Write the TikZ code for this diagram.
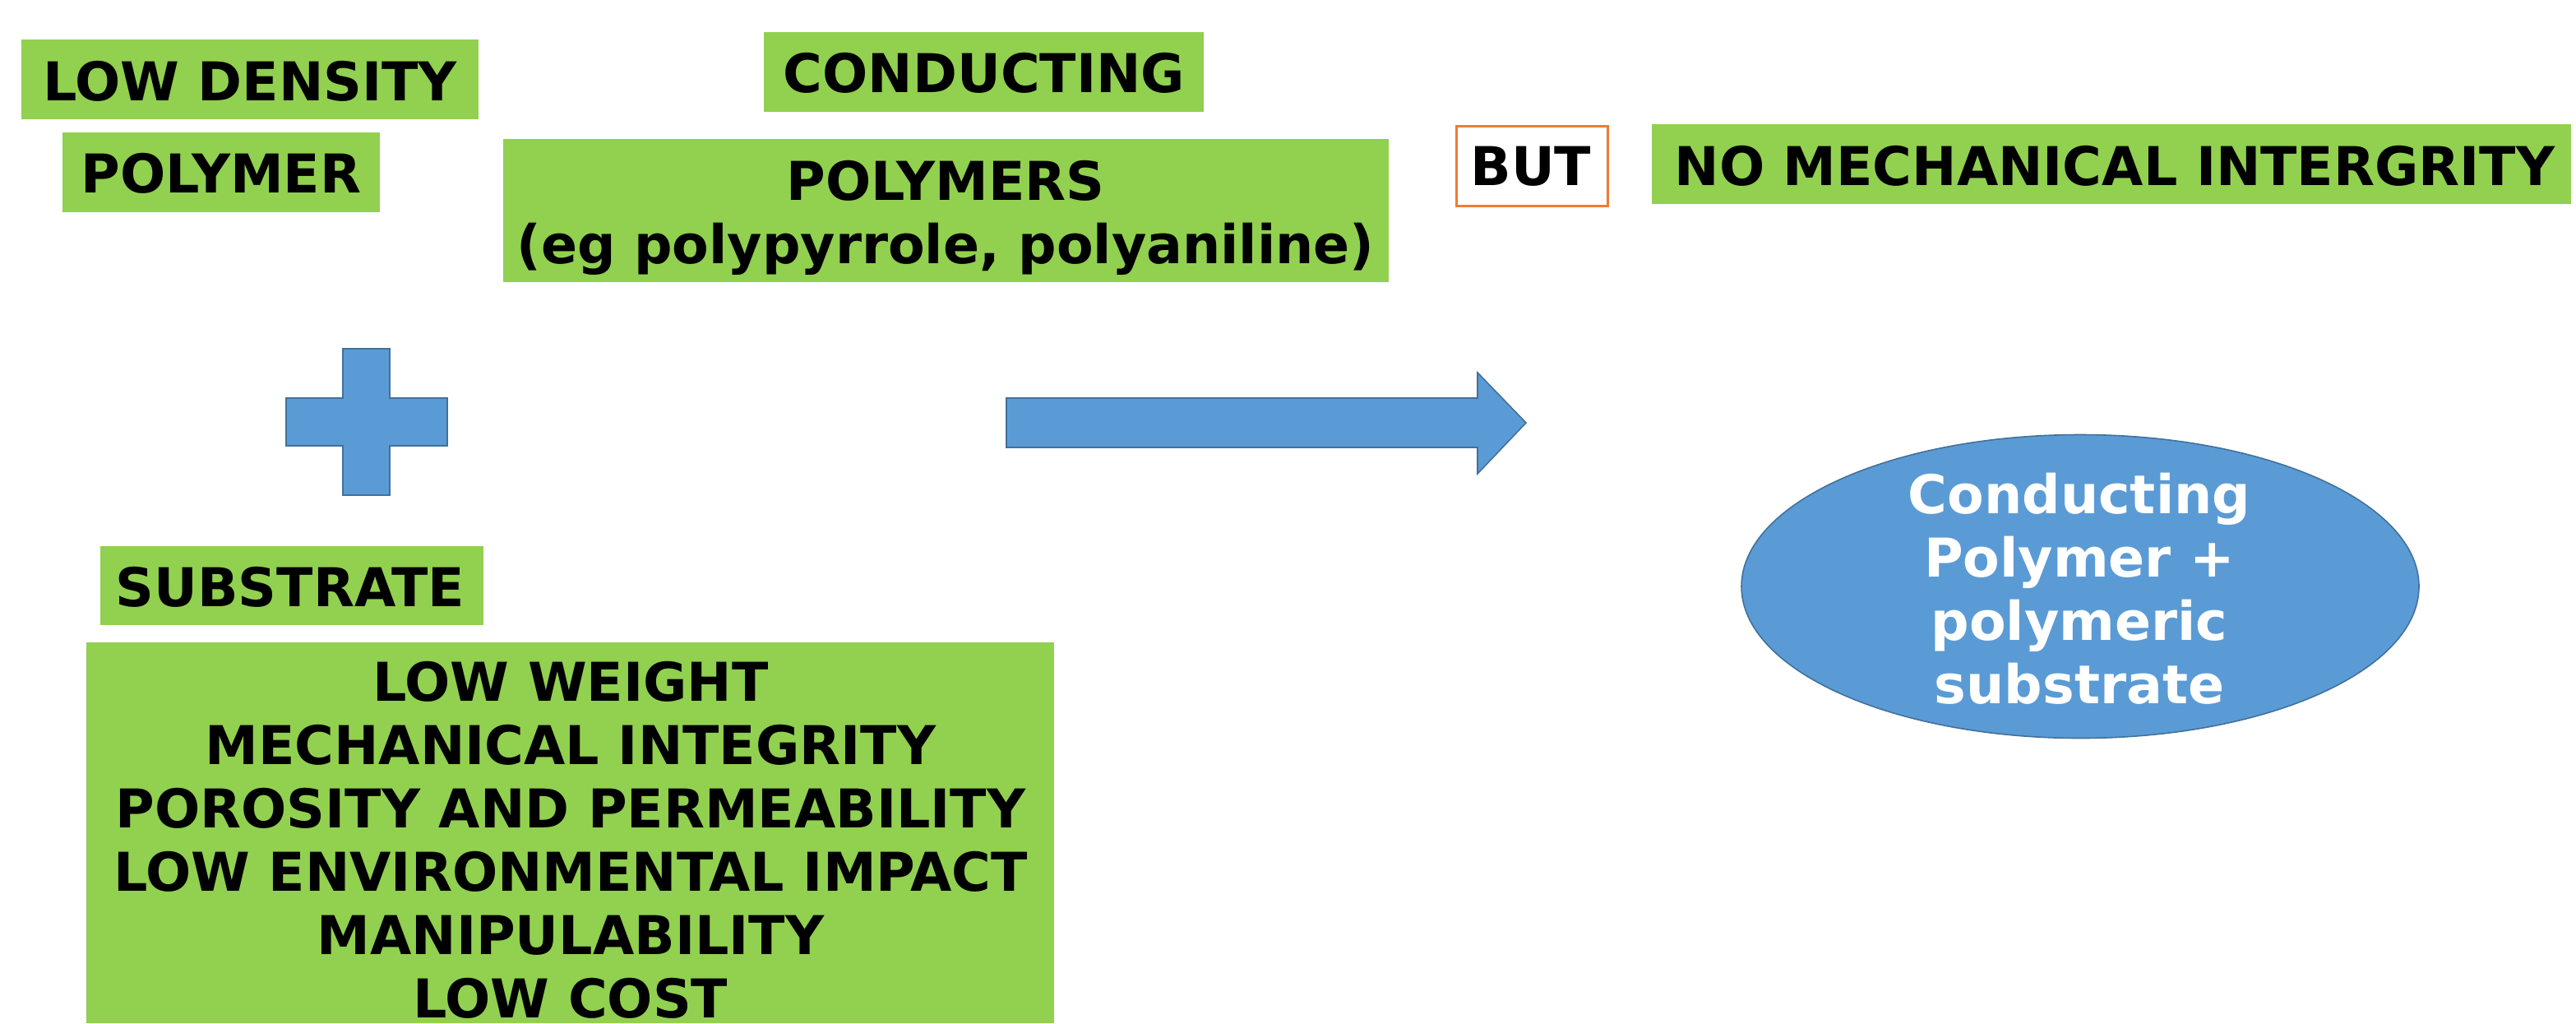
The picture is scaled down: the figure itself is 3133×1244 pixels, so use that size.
\documentclass[tikz,border=0pt]{standalone}
\usepackage{fontspec}
\setmainfont{DejaVu Sans}
\usetikzlibrary{shapes.geometric}
\definecolor{offgreen}{RGB}{146,208,80}
\definecolor{offblue}{RGB}{91,155,213}
\definecolor{offblueline}{RGB}{65,113,156}
\definecolor{offorange}{RGB}{237,125,49}
\begin{document}
\begin{tikzpicture}[x=0.5pt,y=-0.5pt,
  gbox/.style={fill=offgreen, draw=none, inner sep=0pt, anchor=north west},
  txt/.style={inner sep=0pt, anchor=base, align=center,
    font=\fontsize{32.5pt}{38.5pt}\selectfont\bfseries},
  wtxt/.style={txt, text=white},
  blueshape/.style={fill=offblue, draw=offblueline, line width=0.8pt, line join=miter}]
\useasboundingbox (0,0) rectangle (3133,1244);
% top left
\node[gbox, minimum width=278pt, minimum height=48.5pt] (ldbox) at (26,48) {};
\node[txt] (ldtxt) at (304,122) {LOW DENSITY};
\node[gbox, minimum width=193pt, minimum height=48.5pt] (polbox) at (76,161) {};
\node[txt] (poltxt) at (269,234) {POLYMER};
% conducting polymers
\node[gbox, minimum width=267.5pt, minimum height=48.5pt] (condbox) at (929,39) {};
\node[txt] (condtxt) at (1197,112) {CONDUCTING};
\node[gbox, minimum width=538.5pt, minimum height=87pt] (polsbox) at (612,169) {};
\node[txt] (polstxt) at (1150,320) {POLYMERS\\(eg polypyrrole, polyaniline)};
% but
\node[gbox, fill=white, draw=offorange, line width=1.5pt, minimum width=92pt, minimum height=48.5pt] (butbox) at (1770,152) {};
\node[txt] (buttxt) at (1862,225) {BUT};
\node[gbox, minimum width=559pt, minimum height=48.5pt] (nmbox) at (2009,151) {};
\node[txt] (nmtxt) at (2572,225) {NO MECHANICAL INTERGRITY};
% plus
\path[blueshape] (417,424) -- (474,424) -- (474,484) -- (544,484) -- (544,542) -- (474,542)
  -- (474,602) -- (417,602) -- (417,542) -- (348,542) -- (348,484) -- (417,484) -- cycle;
% arrow
\path[blueshape] (1224,484) -- (1797,484) -- (1797,453) -- (1856,514) -- (1797,576)
  -- (1797,544) -- (1224,544) -- cycle;
% substrate
\node[gbox, minimum width=233pt, minimum height=48pt] (subbox) at (122,664) {};
\node[txt] (subtxt) at (353,737) {SUBSTRATE};
\node[gbox, minimum width=588.5pt, minimum height=231.5pt] (propbox) at (105,781) {};
\node[txt] (proptxt) at (694,1237) {LOW WEIGHT\\MECHANICAL INTEGRITY\\POROSITY AND PERMEABILITY\\LOW ENVIRONMENTAL IMPACT\\MANIPULABILITY\\LOW COST};
% ellipse
\node[ellipse, fill=offblue, draw=offblueline, line width=0.8pt, minimum width=412pt, minimum height=184.5pt, inner sep=0pt] (ell) at (2530,713) {};
\node[wtxt] (elltxt) at (2529,855) {Conducting\\Polymer +\\polymeric\\substrate};
\end{tikzpicture}
\end{document}
